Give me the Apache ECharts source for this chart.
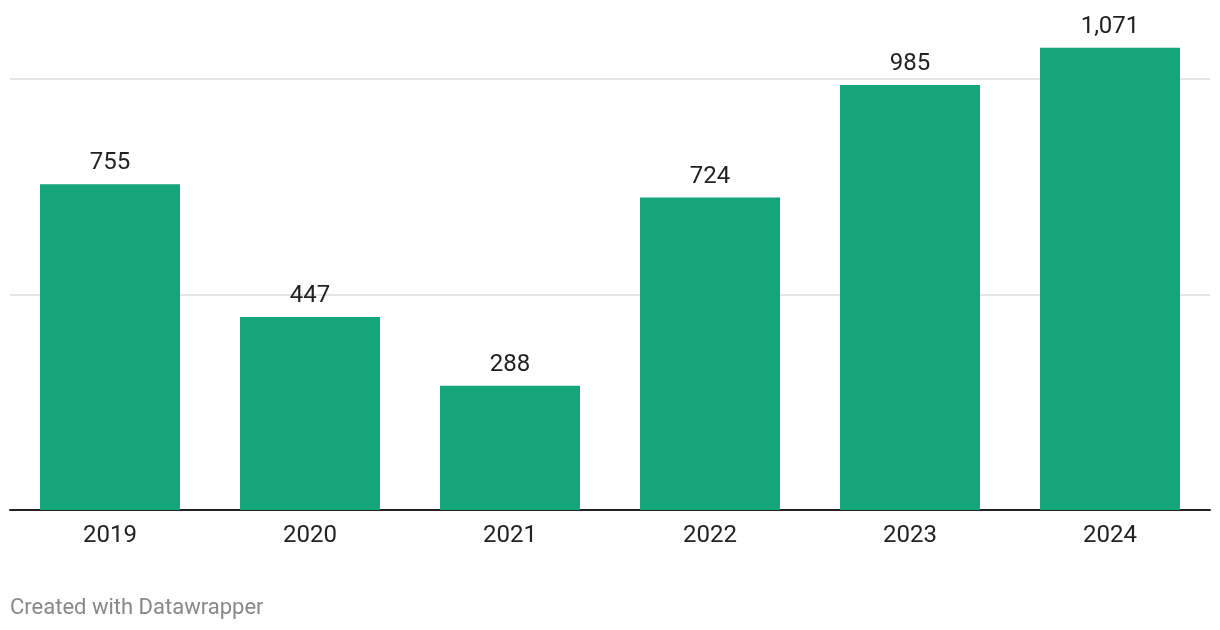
<!DOCTYPE html>
<html><head><meta charset="utf-8">
<script src="https://cdn.jsdelivr.net/npm/echarts@6/dist/echarts.min.js"></script>
<style>html,body{margin:0;padding:0;background:#fff}#c{width:1220px;height:630px}</style>
</head><body><div id="c"></div>
<script>
const categories = ['2019','2020','2021','2022','2023','2024'];
const values = [755, 447, 288, 724, 985, 1071];
const yTicks = [0, 500, 1000];

const chart = echarts.init(document.getElementById('c'), null, {renderer:'canvas'});
const yMax = Math.max(...values);
chart.setOption({
  animation:false,
  grid:{left:10, right:10, top:510 - yMax*0.4315, bottom:120, containLabel:false},
  xAxis:{type:'category', data:categories,
    axisLine:{show:true, lineStyle:{color:'#222', width:2}},
    axisTick:{show:false},
    axisLabel:{fontFamily:'Roboto', fontSize:24, color:'#222', margin:14}},
  yAxis:{type:'value', min:0, max:yMax, interval:500,
    axisLabel:{show:false}, axisLine:{show:false}, axisTick:{show:false},
    splitLine:{show:true, showMinLine:false, showMaxLine:false, lineStyle:{color:'#e5e5e5', width:2}}},
  series:[{type:'bar', data:values, barWidth:'70%',
    itemStyle:{color:'#14a57b'},
    label:{show:true, position:'top', distance:9, fontFamily:'Roboto', fontSize:24, color:'#222',
      formatter:p=>p.value.toLocaleString('en-US')}}],
  graphic:[{type:'text', left:10, top:597, style:{text:'Created with Datawrapper', font:'22px Roboto', fill:'#888'}}]
});
</script></body></html>
